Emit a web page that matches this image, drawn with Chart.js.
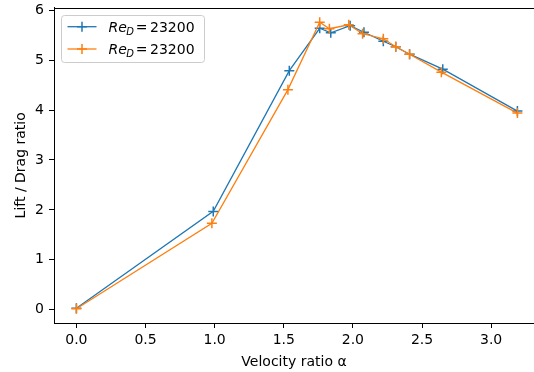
<!DOCTYPE html>
<html lang="en">
<head>
<meta charset="UTF-8">
<title>Lift / Drag ratio</title>
<script src="https://cdn.jsdelivr.net/npm/chart.js"></script>
<style>
  html, body { margin: 0; padding: 0; background: #fff; overflow: hidden; }
  #wrap { width: 534px; height: 372px; position: relative; }
</style>
</head>
<body>
<div id="wrap"><canvas id="myChart"></canvas></div>
<script>
// velocity ratio alpha and lift/drag
var alphaBlue = [0, 0.99, 1.54, 1.76, 1.84, 1.98, 2.08, 2.22, 2.31, 2.41, 2.65, 3.19];
var ldBlue    = [0.03, 1.97, 4.79, 5.64, 5.55, 5.69, 5.56, 5.38, 5.27, 5.12, 4.82, 3.98];
var alphaOrange = [0, 0.98, 1.53, 1.76, 1.83, 1.97, 2.07, 2.22, 2.31, 2.41, 2.64, 3.19];
var ldOrange    = [0.02, 1.73, 4.41, 5.76, 5.63, 5.71, 5.53, 5.43, 5.27, 5.12, 4.76, 3.94];
var seriesNames = ['Re_D = 23200', 'Re_D = 23200'];
var xTicks = [0, 0.5, 1.0, 1.5, 2.0, 2.5, 3.0];
var yTicks = [0, 1, 2, 3, 4, 5, 6];

var blue = '#1f77b4';
var orange = '#ff7f0e';
var FONT = 'DejaVu Sans';

function pts(xs, ys) {
    return xs.map(function (x, i) { return {x: x, y: ys[i]}; });
}

// top spine + legend with subscript text
var extras = {
    id: 'extras',
    afterDatasetsDraw: function (chart) {
        var ctx = chart.ctx, a = chart.chartArea;
        ctx.save();
        ctx.strokeStyle = '#000';
        ctx.lineWidth = 1;
        ctx.beginPath();
        ctx.moveTo(a.left, Math.round(a.top) + 0.5);
        ctx.lineTo(a.right, Math.round(a.top) + 0.5);
        ctx.stroke();

        // legend frame
        var bx = 61.5, by = 15.5, bw = 143, bh = 47, r = 3;
        ctx.beginPath();
        ctx.moveTo(bx + r, by);
        ctx.arcTo(bx + bw, by, bx + bw, by + bh, r);
        ctx.arcTo(bx + bw, by + bh, bx, by + bh, r);
        ctx.arcTo(bx, by + bh, bx, by, r);
        ctx.arcTo(bx, by, bx + bw, by, r);
        ctx.closePath();
        ctx.fillStyle = 'rgba(255,255,255,0.8)';
        ctx.fill();
        ctx.strokeStyle = '#cccccc';
        ctx.stroke();

        var rows = [26.7, 49];
        var cols = [blue, orange];
        rows.forEach(function (yy, i) {
            ctx.strokeStyle = cols[i];
            ctx.lineWidth = 1.3;
            ctx.beginPath();
            ctx.moveTo(67.5, yy); ctx.lineTo(96.5, yy);
            ctx.stroke();
            ctx.lineWidth = 1.5;
            ctx.beginPath();
            ctx.moveTo(82, yy - 5); ctx.lineTo(82, yy + 5);
            ctx.moveTo(77, yy); ctx.lineTo(87, yy);
            ctx.stroke();

            var parts = seriesNames[i].split(' = ');
            var sub = parts[0].split('_');
            ctx.fillStyle = '#000';
            ctx.textBaseline = 'alphabetic';
            ctx.textAlign = 'left';
            var base = yy + 5;
            ctx.font = 'italic 14px "' + FONT + '"';
            ctx.fillText(sub[0], 108.5, base);
            var w = ctx.measureText(sub[0]).width;
            ctx.font = 'italic 10px "' + FONT + '"';
            ctx.fillText(sub[1], 108.5 + w - 0.5, base + 3);
            ctx.font = '14px "' + FONT + '"';
            ctx.fillText('=', 135.8, base);
            ctx.fillText(parts[1], 150, base);
        });
        ctx.restore();
    }
};

new Chart(document.getElementById('myChart'), {
    type: 'line',
    data: {
        datasets: [
            {
                label: seriesNames[0],
                data: pts(alphaBlue, ldBlue),
                order: 1,
                borderColor: blue,
                backgroundColor: blue,
                borderWidth: 1.3,
                pointStyle: 'cross',
                pointRadius: 5,
                pointBorderWidth: 1.5,
                pointHoverRadius: 5
            },
            {
                label: seriesNames[1],
                data: pts(alphaOrange, ldOrange),
                order: 0,
                borderColor: orange,
                backgroundColor: orange,
                borderWidth: 1.3,
                pointStyle: 'cross',
                pointRadius: 5,
                pointBorderWidth: 1.5,
                pointHoverRadius: 5
            }
        ]
    },
    options: {
        responsive: true,
        maintainAspectRatio: false,
        animation: false,
        layout: { autoPadding: false, padding: { top: 7.6, left: 0, right: 0, bottom: 0 } },
        plugins: {
            legend: { display: false },
            tooltip: { enabled: false }
        },
        scales: {
            x: {
                type: 'linear',
                min: -0.162,
                max: 3.31,
                afterBuildTicks: function (s) { s.ticks = xTicks.map(function (v) { return {value: v}; }); },
                afterFit: function (s) { s.height = 49; s.paddingLeft = 0; s.paddingRight = 0; },
                grid: { drawOnChartArea: false, drawTicks: true, tickLength: 5, tickColor: '#000', tickWidth: 1 },
                border: { color: '#000', width: 1 },
                ticks: {
                    color: '#000', padding: 4, maxRotation: 0,
                    font: { family: FONT, size: 14, lineHeight: 1.2 },
                    callback: function (v) { return v.toFixed(1); }
                },
                title: {
                    display: true, text: 'Velocity ratio α', color: '#000',
                    font: { family: FONT, size: 14, lineHeight: 1.2 },
                    padding: { top: 0, bottom: 1.6 }
                }
            },
            y: {
                min: -0.267,
                max: 6.054,
                afterBuildTicks: function (s) { s.ticks = yTicks.map(function (v) { return {value: v}; }); },
                afterFit: function (s) { s.width = 54; s.paddingTop = 0; s.paddingBottom = 0; },
                grid: { drawOnChartArea: false, drawTicks: true, tickLength: 5, tickColor: '#000', tickWidth: 1 },
                border: { color: '#000', width: 1 },
                ticks: {
                    color: '#000', padding: 5,
                    font: { family: FONT, size: 14, lineHeight: 1.2 },
                    callback: function (v) { return String(v); }
                },
                title: {
                    display: true, text: 'Lift / Drag ratio', color: '#000',
                    font: { family: FONT, size: 14, lineHeight: 1.2 },
                    padding: { top: 13.4, bottom: 0 }
                }
            }
        }
    },
    plugins: [extras]
});
</script>
</body>
</html>
